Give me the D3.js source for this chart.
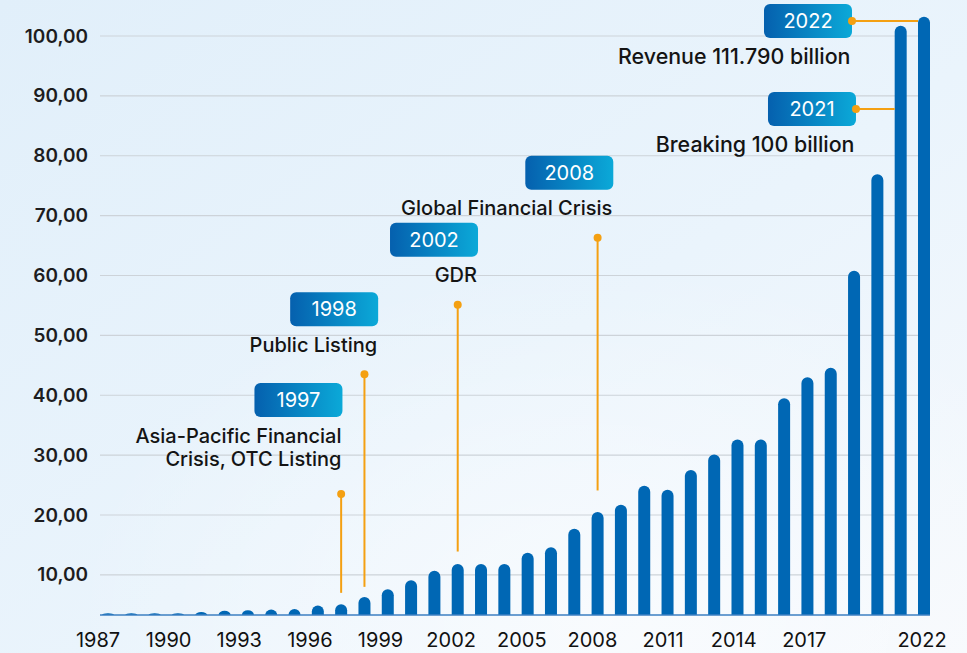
<!DOCTYPE html>
<html>
<head>
<meta charset="utf-8">
<script src="https://cdn.jsdelivr.net/npm/d3@7"></script>
<style>
  html, body { margin: 0; padding: 0; overflow: hidden; }
  body { width: 967px; height: 653px; }
  svg { display: block; }
</style>
</head>
<body>
<svg id="chart" width="967" height="653"></svg>
<script>
// ---------------- DATA ----------------
const years = d3.range(1987, 2023);
const revenue = [
  3.6, 3.6, 3.6, 3.6, 3.8, 4.0, 4.1, 4.2, 4.3, 4.9,
  5.1, 6.3, 7.6, 9.1, 10.7, 11.8, 11.8, 11.8, 13.7, 14.6,
  17.7, 20.5, 21.7, 24.9, 24.2, 27.5, 30.1, 32.6, 32.6, 39.5,
  43.0, 44.6, 60.8, 76.9, 101.7, 103.2
];
const yTickValues = [10, 20, 30, 40, 50, 60, 70, 80, 90, 100];
const xTickYears = [1987, 1990, 1993, 1996, 1999, 2002, 2005, 2008, 2011, 2014, 2017, 2022];

// vertical milestone annotations
const milestoneYears = [1997, 1998, 2002, 2008];
const milestoneTags = ["1997", "1998", "2002", "2008"];
const milestoneLabels = [
  ["Asia-Pacific Financial", "Crisis, OTC Listing"],
  ["Public Listing"],
  ["GDR"],
  ["Global Financial Crisis"]
];
const milestoneDotValues = [23.5, 43.5, 55.1, 66.3];
const milestoneLineEndValues = [7.0, 8.0, 13.9, 24.1];

// horizontal milestone annotations (top right)
const peakYears = [2021, 2022];
const peakTags = ["2021", "2022"];
const peakLabels = ["Breaking 100 billion", "Revenue 111.790 billion"];
const peakDotValues = [87.8, 102.5];

// ---------------- LAYOUT / STYLE ----------------
const W = 967, H = 653;
const baseline = 615, plotLeft = 100, plotRight = 930;
const barW = 12;
const boxW = 88, boxH = 34;
const milestoneBoxDx = [1.3, 13.7, 20.3, 15.7];  // box right edge relative to dot
const peakLineLen = [38.7, 66];                   // horizontal connector length
const COL_BAR = "#0067b4";
const COL_ORANGE = "#f4a012";
const fontAnn = "Inter, 'Open Sans', sans-serif";

const svg = d3.select("#chart");
const defs = svg.append("defs");

const bg = defs.append("linearGradient").attr("id", "bg")
  .attr("x1", "0").attr("y1", "0").attr("x2", "1").attr("y2", "1");
bg.append("stop").attr("offset", "0").attr("stop-color", "#e1effa");
bg.append("stop").attr("offset", "0.55").attr("stop-color", "#eaf4fc");
bg.append("stop").attr("offset", "1").attr("stop-color", "#f6f9fd");

const glow = defs.append("radialGradient").attr("id", "glow")
  .attr("cx", "0.62").attr("cy", "0.95").attr("r", "0.55");
glow.append("stop").attr("offset", "0").attr("stop-color", "#ffffff").attr("stop-opacity", 0.55);
glow.append("stop").attr("offset", "1").attr("stop-color", "#ffffff").attr("stop-opacity", 0);

const tagGrad = defs.append("linearGradient").attr("id", "tag")
  .attr("x1", "0").attr("y1", "0").attr("x2", "1").attr("y2", "0");
tagGrad.append("stop").attr("offset", "0").attr("stop-color", "#0560ae");
tagGrad.append("stop").attr("offset", "1").attr("stop-color", "#0ba9d8");

svg.append("rect").attr("width", W).attr("height", H).attr("fill", "url(#bg)");
svg.append("rect").attr("width", W).attr("height", H).attr("fill", "url(#glow)");

// scales
const x = d3.scalePoint().domain(years).range([108, 924]);
const y = d3.scaleLinear().domain([3.3, 100]).range([baseline, 36]);
const xLabel = d3.scaleLinear().domain([1987, 2022]).range([97.5, 921.5]);

// gridlines
svg.append("g").selectAll("line").data(yTickValues).join("line")
  .attr("x1", plotLeft).attr("x2", plotRight)
  .attr("y1", d => y(d)).attr("y2", d => y(d))
  .attr("stroke", "#cdd3d9").attr("stroke-width", 1.2);

// y axis labels
const yAxis = d3.axisLeft(y).tickValues(yTickValues).tickSize(0).tickPadding(0)
  .tickFormat(d => d.toFixed(2).replace(".", ","));
const gy = svg.append("g").attr("transform", "translate(88,0)").call(yAxis);
gy.select(".domain").remove();
gy.selectAll("text").attr("font-family", "Inter, 'Open Sans', sans-serif")
  .attr("font-size", 19).attr("font-weight", 600).attr("fill", "#1d1d1f");

// bars with rounded top
function barPath(cx, top, bottom, w) {
  const h = bottom - top;
  const r = Math.min(w / 2, h);
  const l = cx - w / 2, rr = cx + w / 2;
  return `M${l},${bottom}V${top + r}A${w / 2},${r} 0 0 1 ${cx},${top}A${w / 2},${r} 0 0 1 ${rr},${top + r}V${bottom}Z`;
}
svg.append("g").selectAll("path").data(years).join("path")
  .attr("d", (d, i) => barPath(x(d), y(revenue[i]), baseline, barW))
  .attr("fill", COL_BAR);

// x axis line
svg.append("line").attr("x1", plotLeft).attr("x2", plotRight)
  .attr("y1", baseline).attr("y2", baseline)
  .attr("stroke", "#3d7fc2").attr("stroke-width", 1.6);

// x axis labels
const xAxis = d3.axisBottom(xLabel).tickValues(xTickYears).tickSize(0).tickPadding(0)
  .tickFormat(d3.format("d"));
const gx = svg.append("g").attr("transform", "translate(0,633)").call(xAxis);
gx.select(".domain").remove();
gx.selectAll("text").attr("font-family", "Inter, 'Open Sans', sans-serif")
  .attr("font-size", 20).attr("font-weight", 400).attr("fill", "#111").attr("dy", "0.71em");

function tag(g, right, cy, text) {
  g.append("rect").attr("x", right - boxW).attr("y", cy - boxH / 2)
    .attr("width", boxW).attr("height", boxH).attr("rx", 6).attr("fill", "url(#tag)");
  g.append("text").attr("x", right - boxW / 2).attr("y", cy)
    .attr("text-anchor", "middle").attr("dy", "0.36em")
    .attr("font-family", fontAnn).attr("font-size", 20).attr("fill", "#fff")
    .text(text);
}

function annText(g, xr, yb, t, size) {
  g.append("text").attr("x", xr).attr("y", yb)
    .attr("text-anchor", "end")
    .attr("font-family", fontAnn).attr("font-size", size).attr("font-weight", 500)
    .attr("fill", "#141414").text(t);
}

// vertical milestones
milestoneYears.forEach((yr, i) => {
  const g = svg.append("g");
  const cx = x(yr);
  const dotY = y(milestoneDotValues[i]);
  g.append("line").attr("x1", cx).attr("x2", cx)
    .attr("y1", dotY).attr("y2", y(milestoneLineEndValues[i]))
    .attr("stroke", COL_ORANGE).attr("stroke-width", 2);
  g.append("circle").attr("cx", cx).attr("cy", dotY).attr("r", 4).attr("fill", COL_ORANGE);
  const lines = milestoneLabels[i];
  const boxBottom = dotY - 48 - (lines.length - 1) * 29;
  const right = cx + milestoneBoxDx[i];
  tag(g, right, boxBottom - boxH / 2, milestoneTags[i]);
  lines.forEach((t, j) => annText(g, right - 1, boxBottom + 25.5 + j * 23.5, t, 20));
});

// horizontal milestones (top)
peakYears.forEach((yr, i) => {
  const g = svg.append("g");
  const barLeft = x(yr) - barW / 2;
  const dotX = barLeft - peakLineLen[i];
  const dotY = y(peakDotValues[i]);
  tag(g, dotX, dotY, peakTags[i]);
  g.append("line").attr("x1", dotX).attr("x2", barLeft)
    .attr("y1", dotY).attr("y2", dotY)
    .attr("stroke", COL_ORANGE).attr("stroke-width", 2);
  g.append("circle").attr("cx", dotX).attr("cy", dotY).attr("r", 4).attr("fill", COL_ORANGE);
  annText(g, dotX - 1.5, dotY + boxH / 2 + 26, peakLabels[i], 21.4);
});
</script>
</body>
</html>
